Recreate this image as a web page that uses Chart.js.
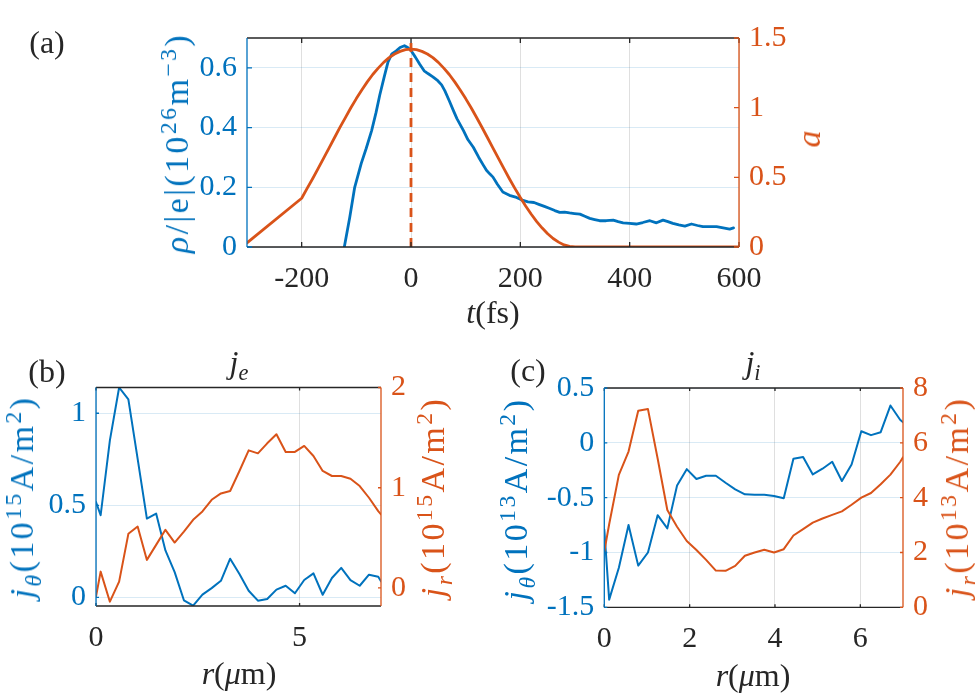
<!DOCTYPE html>
<html>
<head>
<meta charset="utf-8">
<script src="https://cdn.jsdelivr.net/npm/chart.js@4.4.1/dist/chart.umd.min.js"></script>
<style>
html, body { margin: 0; padding: 0; background: #fff; }
body { width: 975px; height: 697px; position: relative; overflow: hidden; font-family: "Liberation Serif", serif; }
canvas { position: absolute; }
.t { position: absolute; white-space: nowrap; line-height: 1; transform: translate(-50%, -50%); font-size: 32px; }
.r { transform: translate(-50%, -50%) rotate(-90deg); font-size: 34px; letter-spacing: 2.4px; }
.blue { color: #0072BD; }
.orange { color: #D95319; }
.dark { color: #262626; }
sup, sub { font-size: 70%; line-height: 0; }
</style>
</head>
<body>
<canvas id="chartA" width="975" height="300" style="left:0;top:0"></canvas>
<canvas id="chartB" width="480" height="330" style="left:0;top:340px"></canvas>
<canvas id="chartC" width="495" height="330" style="left:480px;top:340px"></canvas>

<div class="t dark" style="left:47px;top:42px">(a)</div>
<div class="t r blue" style="left:177px;top:143px"><i>ρ</i>/|e|(10<sup>26</sup>m<sup>−3</sup>)</div>
<div class="t r orange" style="left:809px;top:139px;letter-spacing:0"><i>a</i></div>
<div class="t dark" style="left:493px;top:312px"><i>t</i>(fs)</div>

<div class="t dark" style="left:47px;top:371px">(b)</div>
<div class="t dark" style="left:239px;top:362px"><i>j<sub>e</sub></i></div>
<div class="t r blue" style="left:22px;top:497px"><i>j<sub>θ</sub></i>(10<sup>15</sup>A/m<sup>2</sup>)</div>
<div class="t r orange" style="left:433px;top:497px"><i>j<sub>r</sub></i>(10<sup>15</sup>A/m<sup>2</sup>)</div>
<div class="t dark" style="left:239px;top:673px"><i>r</i>(<i>μ</i>m)</div>

<div class="t dark" style="left:528px;top:370px">(c)</div>
<div class="t dark" style="left:753px;top:362px"><i>j<sub>i</sub></i></div>
<div class="t r blue" style="left:516px;top:499px"><i>j<sub>θ</sub></i>(10<sup>13</sup>A/m<sup>2</sup>)</div>
<div class="t r orange" style="left:957px;top:497px"><i>j<sub>r</sub></i>(10<sup>13</sup>A/m<sup>2</sup>)</div>
<div class="t dark" style="left:753px;top:675px"><i>r</i>(<i>μ</i>m)</div>

<script>
const BLUE = '#0072BD';
const ORANGE = '#D95319';
const DARK = '#262626';

// (a) electron density vs time
const tRho = [-122, -112, -103, -91, -82, -72, -64, -57, -49, -42, -35, -27, -20, -12, -6, 0, 8, 16, 24, 31, 40, 49, 56, 62, 70, 78, 84, 96, 104, 114, 124, 132, 138, 144, 150, 158, 168, 180, 193, 202, 214, 225, 235, 244, 254, 263, 272, 281, 290, 299, 309, 318, 327, 336, 345, 357, 370, 379, 388, 400, 412, 424, 437, 449, 461, 470, 479, 490, 501, 513, 524, 534, 546, 559, 571, 583, 590];
const rho = [0, 0.10, 0.20, 0.28, 0.33, 0.39, 0.45, 0.51, 0.57, 0.62, 0.647, 0.657, 0.668, 0.674, 0.668, 0.658, 0.636, 0.612, 0.59, 0.581, 0.57, 0.557, 0.543, 0.523, 0.49, 0.455, 0.43, 0.39, 0.36, 0.334, 0.30, 0.275, 0.257, 0.245, 0.234, 0.21, 0.184, 0.173, 0.166, 0.158, 0.151, 0.149, 0.142, 0.136, 0.129, 0.122, 0.116, 0.117, 0.114, 0.112, 0.11, 0.103, 0.096, 0.092, 0.088, 0.088, 0.09, 0.085, 0.081, 0.079, 0.077, 0.082, 0.088, 0.081, 0.09, 0.085, 0.079, 0.074, 0.07, 0.077, 0.072, 0.068, 0.068, 0.068, 0.064, 0.06, 0.064];
// (a) laser amplitude vs time
const tPulse = [-300, -200, -190, -180, -170, -160, -150, -140, -130, -120, -110, -100, -90, -80, -70, -60, -50, -40, -30, -20, -10, 0, 10, 20, 30, 40, 50, 60, 70, 80, 90, 100, 110, 120, 130, 140, 150, 160, 170, 180, 190, 200, 210, 220, 230, 240, 250, 260, 270, 280, 290, 300, 600];
const aPulse = [0.03, 0.35, 0.421, 0.49, 0.562, 0.636, 0.71, 0.784, 0.858, 0.929, 0.999, 1.065, 1.127, 1.185, 1.238, 1.284, 1.325, 1.359, 1.385, 1.404, 1.416, 1.42, 1.416, 1.404, 1.385, 1.359, 1.325, 1.284, 1.238, 1.185, 1.127, 1.065, 0.999, 0.929, 0.858, 0.784, 0.71, 0.636, 0.562, 0.49, 0.421, 0.355, 0.293, 0.235, 0.182, 0.136, 0.095, 0.061, 0.035, 0.015, 0.004, 0, 0];
const tPeak = 0;
const aXTicks = [-200, 0, 200, 400, 600];
const aYTicks = [0, 0.2, 0.4, 0.6];
const aY2Ticks = [0, 0.5, 1, 1.5];

// (b), (c) radial profiles
const rGrid = [0, 0.114, 0.341, 0.568, 0.795, 1.023, 1.25, 1.477, 1.705, 1.932, 2.159, 2.386, 2.614, 2.841, 3.068, 3.295, 3.523, 3.75, 3.977, 4.205, 4.432, 4.659, 4.886, 5.114, 5.341, 5.568, 5.795, 6.023, 6.25, 6.477, 6.705, 6.932, 7.0];
const jeTheta = [0.518, 0.446, 0.853, 1.14, 1.076, 0.752, 0.428, 0.455, 0.255, 0.137, -0.016, -0.045, 0.015, 0.05, 0.09, 0.21, 0.127, 0.036, -0.018, -0.009, 0.042, 0.063, 0.022, 0.094, 0.13, 0.014, 0.105, 0.16, 0.094, 0.063, 0.123, 0.112, 0.087];
const jeR = [-0.087, 0.163, -0.137, 0.063, 0.54, 0.613, 0.28, 0.43, 0.58, 0.453, 0.563, 0.68, 0.763, 0.88, 0.943, 0.967, 1.167, 1.373, 1.343, 1.443, 1.533, 1.357, 1.357, 1.417, 1.317, 1.167, 1.117, 1.117, 1.09, 1.017, 0.9, 0.767, 0.733];
const jiTheta = [-0.79, -1.43, -1.14, -0.75, -1.12, -1.0, -0.66, -0.78, -0.39, -0.24, -0.33, -0.30, -0.30, -0.364, -0.424, -0.47, -0.473, -0.473, -0.485, -0.506, -0.145, -0.13, -0.288, -0.236, -0.173, -0.348, -0.197, 0.106, 0.07, 0.097, 0.34, 0.21, 0.188];
const jiR = [2.03, 3.03, 4.83, 5.68, 7.17, 7.23, 5.43, 3.55, 2.94, 2.42, 2.09, 1.73, 1.34, 1.33, 1.51, 1.88, 2.0, 2.1, 2.0, 2.12, 2.62, 2.85, 3.09, 3.24, 3.37, 3.5, 3.74, 4.0, 4.17, 4.49, 4.84, 5.3, 5.47];
const bXTicks = [0, 5];
const bYTicks = [0, 0.5, 1];
const bY2Ticks = [0, 1, 2];
const cXTicks = [0, 2, 4, 6];
const cYTicks = [-1.5, -1, -0.5, 0, 0.5];
const cY2Ticks = [0, 2, 4, 6, 8];

Chart.defaults.font.family = '"Liberation Serif", serif';
const tickFont = { family: '"Liberation Serif", serif', size: 30 };
const pts = (xs, ys) => xs.map((x, i) => ({ x: x, y: ys[i] }));
const fixedTicks = list => s => { s.ticks = list.map(v => ({ value: v })); };

// box, inward tick marks, coloured y axes (drawn on top like matlab)
const frame = {
    id: 'frame',
    afterDraw(chart) {
        const { ctx, chartArea: a, scales } = chart;
        const len = chart.options.plugins.frame.tick;
        ctx.save();
        ctx.lineWidth = 1.3;
        ctx.strokeStyle = DARK;
        ctx.beginPath();
        scales.x.ticks.forEach(t => {
            const px = scales.x.getPixelForValue(t.value);
            ctx.moveTo(px, a.bottom); ctx.lineTo(px, a.bottom - len);
            ctx.moveTo(px, a.top); ctx.lineTo(px, a.top + len);
        });
        ctx.moveTo(a.left, a.top); ctx.lineTo(a.right, a.top);
        ctx.moveTo(a.left, a.bottom); ctx.lineTo(a.right, a.bottom);
        ctx.stroke();

        ctx.strokeStyle = BLUE;
        ctx.beginPath();
        scales.y.ticks.forEach(t => {
            const py = scales.y.getPixelForValue(t.value);
            ctx.moveTo(a.left, py); ctx.lineTo(a.left + len, py);
        });
        ctx.moveTo(a.left, a.top); ctx.lineTo(a.left, a.bottom);
        ctx.stroke();

        ctx.strokeStyle = ORANGE;
        ctx.beginPath();
        scales.y2.ticks.forEach(t => {
            const py = scales.y2.getPixelForValue(t.value);
            ctx.moveTo(a.right, py); ctx.lineTo(a.right - len, py);
        });
        ctx.moveTo(a.right, a.top); ctx.lineTo(a.right, a.bottom);
        ctx.stroke();
        ctx.restore();
    }
};

function buildChart(id, area, datasets, x, y, y2) {
    return new Chart(document.getElementById(id), {
        type: 'line',
        data: { datasets: datasets },
        options: {
            responsive: false,
            animation: false,
            events: [],
            layout: { padding: { top: area.top, left: 0, right: 0, bottom: 0 } },
            plugins: { legend: { display: false }, tooltip: { enabled: false }, frame: { tick: area.tick } },
            elements: { point: { radius: 0 }, line: { tension: 0, borderCapStyle: 'round', borderJoinStyle: 'round' } },
            scales: {
                x: {
                    type: 'linear', min: x.min, max: x.max,
                    afterBuildTicks: fixedTicks(x.ticks),
                    afterFit: s => { s.height = area.xh; },
                    ticks: { font: tickFont, color: DARK, padding: 14, autoSkip: false, maxRotation: 0, callback: v => String(v) },
                    grid: { color: 'rgba(38,38,38,0.15)', drawTicks: false },
                    border: { display: false }
                },
                y: {
                    position: 'left', min: y.min, max: y.max,
                    afterBuildTicks: fixedTicks(y.ticks),
                    afterFit: s => { s.width = area.left; },
                    ticks: { font: tickFont, color: BLUE, padding: 10, autoSkip: false, callback: v => String(v) },
                    grid: { color: 'rgba(0,114,189,0.15)', drawTicks: false },
                    border: { display: false }
                },
                y2: {
                    position: 'right', min: y2.min, max: y2.max,
                    afterBuildTicks: fixedTicks(y2.ticks),
                    afterFit: s => { s.width = area.right; },
                    ticks: { font: tickFont, color: ORANGE, padding: 10, autoSkip: false, callback: v => String(v) },
                    grid: { display: false, drawTicks: false },
                    border: { display: false }
                }
            }
        },
        plugins: [frame]
    });
}

const charts = [];

// (a)
charts.push(buildChart('chartA', { top: 38, left: 247, right: 236, xh: 53, tick: 5 }, [
    { data: pts(tPulse, aPulse), yAxisID: 'y2', borderColor: ORANGE, borderWidth: 2.8 },
    { data: [{ x: tPeak, y: aY2Ticks[0] }, { x: tPeak, y: aY2Ticks[aY2Ticks.length - 1] }], yAxisID: 'y2', borderColor: ORANGE, borderWidth: 2.8, borderDash: [9, 6], borderCapStyle: 'butt' },
    { data: pts(tRho, rho), yAxisID: 'y', borderColor: BLUE, borderWidth: 2.8 }
], { min: -300, max: 600, ticks: aXTicks }, { min: 0, max: 0.7, ticks: aYTicks }, { min: 0, max: 1.5, ticks: aY2Ticks }));

// (b) electrons
charts.push(buildChart('chartB', { top: 47.5, left: 96, right: 99, xh: 64, tick: 3 }, [
    { data: pts(rGrid, jeR), yAxisID: 'y2', borderColor: ORANGE, borderWidth: 2 },
    { data: pts(rGrid, jeTheta), yAxisID: 'y', borderColor: BLUE, borderWidth: 2 }
], { min: 0, max: 7, ticks: bXTicks }, { min: -0.047, max: 1.14, ticks: bYTicks }, { min: -0.18, max: 2, ticks: bY2Ticks }));

// (c) ions
charts.push(buildChart('chartC', { top: 48, left: 124.3, right: 72, xh: 62.7, tick: 3 }, [
    { data: pts(rGrid, jiR), yAxisID: 'y2', borderColor: ORANGE, borderWidth: 2 },
    { data: pts(rGrid, jiTheta), yAxisID: 'y', borderColor: BLUE, borderWidth: 2 }
], { min: 0, max: 7, ticks: cXTicks }, { min: -1.5, max: 0.5, ticks: cYTicks }, { min: 0, max: 8, ticks: cY2Ticks }));

// redraw once the serif face is resolved for canvas text
if (document.fonts && document.fonts.load) {
    document.fonts.load('30px "Liberation Serif"').then(() => charts.forEach(c => c.update()));
}
</script>
</body>
</html>
